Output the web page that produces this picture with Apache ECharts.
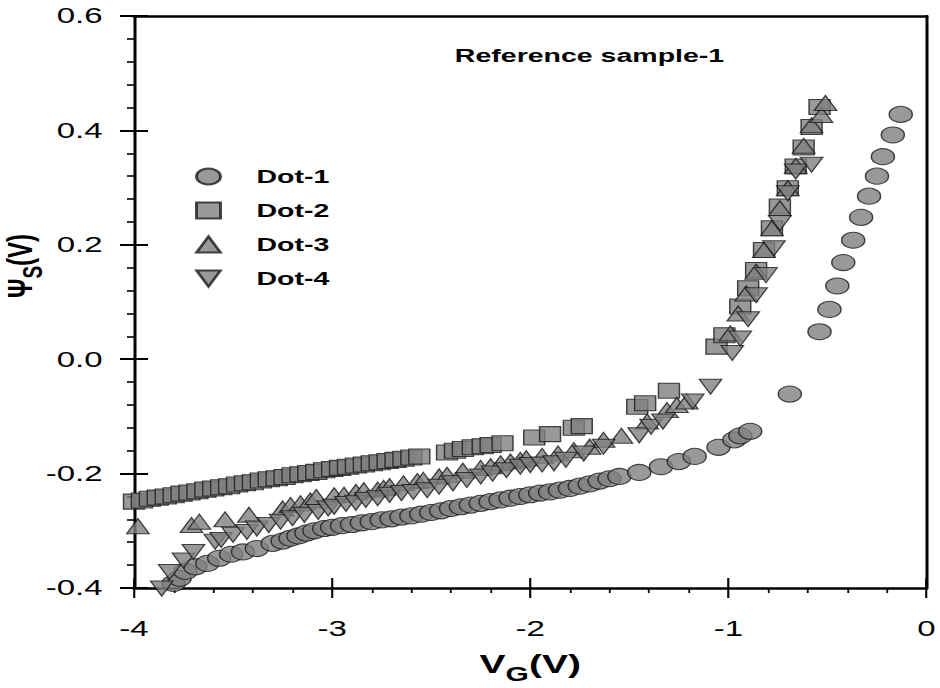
<!DOCTYPE html>
<html>
<head>
<meta charset="utf-8">
<script src="https://cdn.jsdelivr.net/npm/echarts@6/dist/echarts.min.js"></script>
<style>
  html, body { margin: 0; padding: 0; background: #fff; overflow: hidden; }
  /* the source figure is stretched sideways, so draw narrow and widen it */
  #main { width: 627px; height: 688px; transform: scaleX(1.5); transform-origin: 0 0; }
</style>
</head>
<body>
<div id="main"></div>
<script>
const S = 1.5; // horizontal stretch
const FONT = "Liberation Sans, Arial, sans-serif";

const seriesNames = ["Dot-1", "Dot-2", "Dot-3", "Dot-4"];
const xTicks = [-4, -3, -2, -1, 0];
const yTicks = [-0.4, -0.2, 0.0, 0.2, 0.4, 0.6];

const dot1X = [-3.80, -3.77, -3.74, -3.69, -3.63, -3.57, -3.51, -3.45, -3.38, -3.30,
  -3.25, -3.21, -3.17, -3.13, -3.09, -3.04,
  -3.00, -2.95, -2.90, -2.85, -2.80, -2.75, -2.70, -2.65, -2.60, -2.55,
  -2.50, -2.45, -2.40, -2.35, -2.30, -2.25, -2.20, -2.15, -2.10, -2.05,
  -2.00, -1.95, -1.90, -1.85, -1.80, -1.75, -1.70, -1.65, -1.60, -1.55,
  -1.45, -1.34, -1.25, -1.17, -1.05, -0.97, -0.94, -0.89,
  -0.69,
  -0.54, -0.49, -0.45, -0.42, -0.37, -0.33, -0.29, -0.25, -0.22, -0.17, -0.13];
const dot1Y = [-0.392, -0.383, -0.371, -0.363, -0.357, -0.348, -0.341, -0.337, -0.331, -0.322,
  -0.318, -0.313, -0.309, -0.304, -0.300, -0.296,
  -0.294, -0.291, -0.289, -0.286, -0.284, -0.281, -0.279, -0.276, -0.274, -0.271,
  -0.268, -0.265, -0.261, -0.258, -0.255, -0.252, -0.249, -0.246, -0.243, -0.240,
  -0.237, -0.234, -0.232, -0.229, -0.226, -0.222, -0.218, -0.213, -0.209, -0.205,
  -0.198, -0.188, -0.179, -0.170, -0.154, -0.141, -0.134, -0.126,
  -0.061,
  0.048, 0.087, 0.128, 0.169, 0.208, 0.248, 0.285, 0.320, 0.354, 0.392, 0.428];

const dot2X = [-4.00, -3.96, -3.92, -3.88, -3.84, -3.80, -3.76, -3.72, -3.68, -3.64,
  -3.60, -3.56, -3.52, -3.48, -3.44, -3.40, -3.36, -3.32, -3.28, -3.24,
  -3.20, -3.16, -3.12, -3.08, -3.04, -3.00, -2.96, -2.92, -2.88, -2.84,
  -2.80, -2.76, -2.72, -2.68, -2.64, -2.60, -2.56,
  -2.42, -2.38, -2.34, -2.29, -2.24, -2.20, -2.14,
  -1.98, -1.90, -1.78, -1.74, -1.46, -1.42, -1.30,
  -1.06, -1.02, -0.94, -0.90, -0.86, -0.82, -0.78, -0.74, -0.70, -0.66, -0.62, -0.58, -0.54];
const dot2Y = [-0.249, -0.247, -0.244, -0.242, -0.240, -0.238, -0.235, -0.233, -0.231, -0.228,
  -0.226, -0.224, -0.222, -0.219, -0.217, -0.215, -0.212, -0.210, -0.208, -0.206,
  -0.203, -0.201, -0.199, -0.197, -0.194, -0.192, -0.190, -0.188, -0.186, -0.184,
  -0.182, -0.180, -0.178, -0.176, -0.174, -0.172, -0.170,
  -0.163, -0.160, -0.157, -0.154, -0.152, -0.150, -0.147,
  -0.137, -0.131, -0.120, -0.117, -0.083, -0.077, -0.055,
  0.022, 0.042, 0.092, 0.124, 0.156, 0.191, 0.229, 0.267, 0.299, 0.337, 0.370, 0.406, 0.441];

const dot3X = [-3.98, -3.71, -3.67, -3.54, -3.42, -3.25, -3.21, -3.16, -3.11, -3.08,
  -2.99, -2.94, -2.88, -2.84, -2.77, -2.74, -2.71, -2.64, -2.57, -2.54,
  -2.46, -2.42, -2.34, -2.25, -2.20, -2.15, -2.10, -2.05, -2.02,
  -1.94, -1.86, -1.78, -1.70, -1.63, -1.54,
  -1.41, -1.31, -1.26, -1.21,
  -0.99, -0.95, -0.91, -0.86, -0.82, -0.78, -0.74, -0.70, -0.66, -0.62, -0.58, -0.53, -0.51];
const dot3Y = [-0.292, -0.290, -0.284, -0.280, -0.272, -0.261, -0.255, -0.252, -0.247, -0.241,
  -0.238, -0.237, -0.232, -0.229, -0.228, -0.225, -0.222, -0.217, -0.213, -0.211,
  -0.205, -0.202, -0.195, -0.190, -0.187, -0.182, -0.179, -0.176, -0.173,
  -0.169, -0.165, -0.159, -0.153, -0.141, -0.134,
  -0.109, -0.089, -0.080, -0.074,
  0.045, 0.080, 0.115, 0.153, 0.191, 0.229, 0.264, 0.299, 0.338, 0.373, 0.409, 0.427, 0.448];

const dot4X = [-3.86, -3.82, -3.75, -3.70, -3.59, -3.56, -3.50, -3.43, -3.38, -3.32,
  -3.26, -3.20, -3.14, -3.07, -3.02, -2.99, -2.93, -2.88, -2.83, -2.77,
  -2.71, -2.65, -2.59, -2.52, -2.46, -2.39, -2.32, -2.25, -2.19, -2.12,
  -2.05, -2.00, -1.94, -1.88, -1.82, -1.73, -1.63,
  -1.45, -1.39, -1.33, -1.18, -1.09,
  -0.98, -0.94, -0.90, -0.86, -0.81, -0.77, -0.74, -0.70, -0.66, -0.58];
const dot4Y = [-0.401, -0.372, -0.352, -0.337, -0.319, -0.316, -0.307, -0.302, -0.296, -0.290,
  -0.284, -0.278, -0.272, -0.267, -0.261, -0.258, -0.253, -0.251, -0.246, -0.243,
  -0.237, -0.234, -0.232, -0.229, -0.223, -0.217, -0.211, -0.205, -0.200, -0.194,
  -0.188, -0.185, -0.184, -0.182, -0.176, -0.165, -0.153,
  -0.133, -0.118, -0.109, -0.074, -0.048,
  0.011, 0.036, 0.070, 0.112, 0.147, 0.194, 0.238, 0.290, 0.328, 0.340];

const zip = (xs, ys) => xs.map((x, i) => [x, ys[i]]);

const markerStyle = { color: "#808080", borderColor: "#1a1a1a", borderWidth: 1 };
// point-down triangle, drawn as a path so the legend shows it the same way
const downTriangle = "path://M0,0 L10,0 L5,10 Z";

const chart = echarts.init(document.getElementById("main"), null, { renderer: "svg" });

const xRange = { type: "value", min: xTicks[0], max: xTicks[xTicks.length - 1], interval: 1 };
const yRange = { type: "value", min: yTicks[0], max: yTicks[yTicks.length - 1], interval: 0.2 };
const plainLine = (w) => ({ onZero: false, lineStyle: { color: "#000", width: w } });

const option = {
  animation: false,
  backgroundColor: "#fff",
  grid: { left: 134 / S, right: 14 / S, top: 16, bottom: 100, containLabel: false, outerBoundsMode: "none" },
  legend: {
    data: seriesNames,
    orient: "vertical",
    left: 125,
    top: 162,
    itemWidth: 16,
    itemHeight: 16,
    itemGap: 15,
    textStyle: { fontFamily: FONT, fontSize: 19, fontWeight: "bold", color: "#000", padding: [0, 0, 0, 19] }
  },
  graphic: [
    {
      type: "text",
      x: 393,
      y: 55,
      style: {
        text: "Reference sample-1",
        fontFamily: FONT, fontSize: 19, fontWeight: "bold", fill: "#000",
        align: "center", verticalAlign: "middle"
      }
    },
    {
      // y-axis title, reads bottom to top
      type: "text",
      x: 16,
      y: 266,
      rotation: Math.PI / 2,
      style: {
        text: "{m|Ψ}{sub|S}{m|(V)}",
        align: "center",
        verticalAlign: "middle",
        rich: {
          m: { fontFamily: FONT, fontSize: 24, fontWeight: "bold", fill: "#000", lineHeight: 30, verticalAlign: "top" },
          sub: { fontFamily: FONT, fontSize: 19, fontWeight: "bold", fill: "#000", lineHeight: 30, padding: [10, 0, 0, 0] }
        }
      }
    }
  ],
  xAxis: [
    Object.assign({}, xRange, {
      position: "bottom",
      axisLine: plainLine(2.5),
      axisTick: { inside: false, length: 10, lineStyle: { color: "#000", width: 1.4 } },
      minorTick: { show: true, splitNumber: 5, length: 5, lineStyle: { color: "#000", width: 1.2 } },
      splitLine: { show: false },
      axisLabel: { fontFamily: FONT, fontSize: 22, color: "#000", margin: 30 },
      name: "V{sub|G}(V)",
      nameLocation: "middle",
      nameGap: 56,
      nameTextStyle: {
        fontFamily: FONT, fontSize: 26, fontWeight: "bold", color: "#000",
        rich: { sub: { fontFamily: FONT, fontSize: 20, fontWeight: "bold", color: "#000", padding: [20, 0, 0, 0] } }
      }
    }),
    Object.assign({}, xRange, {
      position: "bottom",
      axisLine: { show: false, onZero: false },
      axisTick: { inside: true, length: 10, lineStyle: { color: "#000", width: 1.4 } },
      axisLabel: { show: false },
      splitLine: { show: false }
    }),
    Object.assign({}, xRange, {
      position: "top",
      axisLine: plainLine(2.5),
      axisTick: { show: false },
      axisLabel: { show: false },
      splitLine: { show: false }
    })
  ],
  yAxis: [
    Object.assign({}, yRange, {
      position: "left",
      axisLine: plainLine(2),
      axisTick: { inside: false, length: 14 / S, lineStyle: { color: "#000", width: 2 } },
      minorTick: { show: true, splitNumber: 5, length: 7 / S, lineStyle: { color: "#000", width: 1.6 } },
      splitLine: { show: false },
      axisLabel: {
        fontFamily: FONT, fontSize: 22, color: "#000", margin: 21,
        formatter: (v) => v.toFixed(1)
      }
    }),
    Object.assign({}, yRange, {
      position: "left",
      axisLine: { show: false, onZero: false },
      axisTick: { inside: true, length: 14 / S, lineStyle: { color: "#000", width: 2 } },
      axisLabel: { show: false },
      splitLine: { show: false }
    }),
    Object.assign({}, yRange, {
      position: "right",
      axisLine: plainLine(2),
      axisTick: { show: false },
      axisLabel: { show: false },
      splitLine: { show: false }
    })
  ],
  series: [
    { name: "Dot-1", type: "scatter", symbol: "circle", symbolSize: [15.4, 16], itemStyle: markerStyle, clip: false, data: zip(dot1X, dot1Y) },
    { name: "Dot-2", type: "scatter", symbol: "rect", symbolSize: [14, 15], itemStyle: markerStyle, clip: false, data: zip(dot2X, dot2Y) },
    { name: "Dot-3", type: "scatter", symbol: "triangle", symbolSize: [15, 15], itemStyle: markerStyle, clip: false, data: zip(dot3X, dot3Y) },
    { name: "Dot-4", type: "scatter", symbol: downTriangle, symbolSize: [15, 15], itemStyle: markerStyle, clip: false, data: zip(dot4X, dot4Y) }
  ]
};

chart.setOption(option);
</script>
</body>
</html>
